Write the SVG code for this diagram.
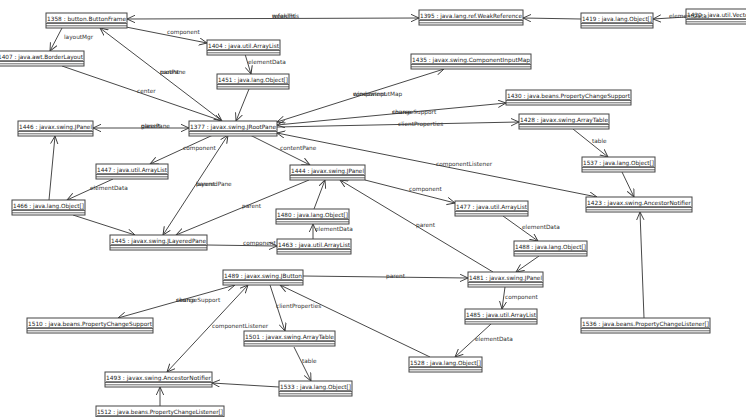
<svg xmlns="http://www.w3.org/2000/svg" width="746" height="417" viewBox="0 0 746 417">
<style>
.box{fill:#fff;stroke:#444;stroke-width:1}
.sep{fill:none;stroke:#444;stroke-width:0.8}
.nm{font-family:"DejaVu Sans",sans-serif;font-size:5.8px;fill:#222;text-decoration:underline}
.lb{font-family:"DejaVu Sans",sans-serif;font-size:5.8px;fill:#333}
.e{stroke:#333;stroke-width:0.9;fill:none;marker-end:url(#ah)}
.b{marker-start:url(#ah)}
</style>
<defs>
<marker id="ah" markerUnits="userSpaceOnUse" markerWidth="10" markerHeight="9" refX="8" refY="4" orient="auto-start-reverse">
<path d="M0,0.3 L8,4 L0,7.7" fill="none" stroke="#333" stroke-width="0.9"/>
</marker>
</defs>
<rect width="746" height="417" fill="#fff"/>
<g id="connectors">
<line class="e b" x1="127" y1="19" x2="419" y2="18"/>
<line class="e" x1="581" y1="19" x2="523" y2="18"/>
<line class="e" x1="686" y1="17" x2="653" y2="19"/>
<line class="e" x1="62" y1="28" x2="50" y2="51"/>
<line class="e" x1="126" y1="27" x2="207" y2="43"/>
<line class="e" x1="245" y1="54" x2="251" y2="74"/>
<line class="e" x1="249" y1="89" x2="236" y2="121"/>
<line class="e" x1="62" y1="66" x2="222" y2="121"/>
<line class="e b" x1="100" y1="28" x2="222" y2="121"/>
<line class="e b" x1="93" y1="128" x2="189" y2="128"/>
<line class="e b" x1="277" y1="122" x2="444" y2="69"/>
<line class="e b" x1="277" y1="125" x2="506" y2="103"/>
<line class="e" x1="277" y1="127" x2="519" y2="122"/>
<line class="e" x1="573" y1="129" x2="608" y2="157"/>
<line class="e" x1="622" y1="172" x2="634" y2="197"/>
<line class="e b" x1="277" y1="133" x2="597" y2="197"/>
<line class="e" x1="250" y1="135" x2="310" y2="165"/>
<line class="e" x1="213" y1="135" x2="150" y2="164"/>
<line class="e" x1="113" y1="179" x2="67" y2="200"/>
<line class="e" x1="49" y1="200" x2="55" y2="136"/>
<line class="e" x1="73" y1="215" x2="135" y2="235"/>
<line class="e b" x1="228" y1="135" x2="163" y2="235"/>
<line class="e" x1="309" y1="180" x2="176" y2="235"/>
<line class="e" x1="207" y1="245" x2="277" y2="246"/>
<line class="e" x1="313" y1="239" x2="313" y2="224"/>
<line class="e" x1="314" y1="209" x2="325" y2="180"/>
<line class="e" x1="365" y1="180" x2="455" y2="203"/>
<line class="e" x1="503" y1="216" x2="538" y2="241"/>
<line class="e" x1="539" y1="256" x2="516" y2="272"/>
<line class="e" x1="493" y1="272" x2="340" y2="180"/>
<line class="e" x1="303" y1="276" x2="468" y2="278"/>
<line class="e" x1="505" y1="287" x2="502" y2="309"/>
<line class="e" x1="491" y1="324" x2="455" y2="357"/>
<line class="e" x1="430" y1="357" x2="280" y2="285"/>
<line class="e b" x1="235" y1="285" x2="118" y2="318"/>
<line class="e b" x1="248" y1="285" x2="167" y2="372"/>
<line class="e" x1="270" y1="285" x2="285" y2="331"/>
<line class="e" x1="294" y1="347" x2="311" y2="381"/>
<line class="e" x1="279" y1="387" x2="212" y2="383"/>
<line class="e" x1="160" y1="406" x2="160" y2="387"/>
<line class="e" x1="644" y1="318" x2="640" y2="212"/>
</g>
<g id="n1358"><rect class="box" x="46" y="13" width="81" height="15"/><path class="sep" d="M46,23.5h81M46,25.8h81"/><text class="nm" x="47" y="21" textLength="79" lengthAdjust="spacingAndGlyphs">1358 : button.ButtonFrame</text></g>
<g id="n1407"><rect class="box" x="-3" y="51" width="87" height="15"/><path class="sep" d="M-3,61.5h87M-3,63.8h87"/><text class="nm" x="-2" y="59" textLength="85" lengthAdjust="spacingAndGlyphs">1407 : java.awt.BorderLayout</text></g>
<g id="n1404"><rect class="box" x="207" y="40" width="73" height="15"/><path class="sep" d="M207,50.5h73M207,52.8h73"/><text class="nm" x="208" y="48" textLength="71" lengthAdjust="spacingAndGlyphs">1404 : java.util.ArrayList</text></g>
<g id="n1451"><rect class="box" x="217" y="74" width="72" height="15"/><path class="sep" d="M217,84.5h72M217,86.8h72"/><text class="nm" x="218" y="82" textLength="70" lengthAdjust="spacingAndGlyphs">1451 : java.lang.Object[]</text></g>
<g id="n1395"><rect class="box" x="419" y="10" width="104" height="15"/><path class="sep" d="M419,20.5h104M419,22.8h104"/><text class="nm" x="420" y="18" textLength="102" lengthAdjust="spacingAndGlyphs">1395 : java.lang.ref.WeakReference</text></g>
<g id="n1419"><rect class="box" x="581" y="13" width="72" height="15"/><path class="sep" d="M581,23.5h72M581,25.8h72"/><text class="nm" x="582" y="21" textLength="70" lengthAdjust="spacingAndGlyphs">1419 : java.lang.Object[]</text></g>
<g id="n1420"><rect class="box" x="686" y="9" width="70" height="15"/><path class="sep" d="M686,19.5h70M686,21.8h70"/><text class="nm" x="687" y="17">1420 : java.util.Vector</text></g>
<g id="n1435"><rect class="box" x="411" y="54" width="120" height="15"/><path class="sep" d="M411,64.5h120M411,66.8h120"/><text class="nm" x="412" y="62" textLength="118" lengthAdjust="spacingAndGlyphs">1435 : javax.swing.ComponentInputMap</text></g>
<g id="n1430"><rect class="box" x="506" y="90" width="125" height="15"/><path class="sep" d="M506,100.5h125M506,102.8h125"/><text class="nm" x="507" y="98" textLength="123" lengthAdjust="spacingAndGlyphs">1430 : java.beans.PropertyChangeSupport</text></g>
<g id="n1428"><rect class="box" x="519" y="114" width="90" height="15"/><path class="sep" d="M519,124.5h90M519,126.8h90"/><text class="nm" x="520" y="122" textLength="88" lengthAdjust="spacingAndGlyphs">1428 : javax.swing.ArrayTable</text></g>
<g id="n1377"><rect class="box" x="189" y="121" width="88" height="15"/><path class="sep" d="M189,131.5h88M189,133.8h88"/><text class="nm" x="190" y="129" textLength="86" lengthAdjust="spacingAndGlyphs">1377 : javax.swing.JRootPane</text></g>
<g id="n1446"><rect class="box" x="18" y="121" width="75" height="15"/><path class="sep" d="M18,131.5h75M18,133.8h75"/><text class="nm" x="19" y="129" textLength="73" lengthAdjust="spacingAndGlyphs">1446 : javax.swing.JPanel</text></g>
<g id="n1447"><rect class="box" x="96" y="164" width="72" height="15"/><path class="sep" d="M96,174.5h72M96,176.8h72"/><text class="nm" x="97" y="172" textLength="70" lengthAdjust="spacingAndGlyphs">1447 : java.util.ArrayList</text></g>
<g id="n1466"><rect class="box" x="12" y="200" width="73" height="15"/><path class="sep" d="M12,210.5h73M12,212.8h73"/><text class="nm" x="13" y="208" textLength="71" lengthAdjust="spacingAndGlyphs">1466 : java.lang.Object[]</text></g>
<g id="n1445"><rect class="box" x="110" y="235" width="97" height="15"/><path class="sep" d="M110,245.5h97M110,247.8h97"/><text class="nm" x="111" y="243" textLength="95" lengthAdjust="spacingAndGlyphs">1445 : javax.swing.JLayeredPane</text></g>
<g id="n1444"><rect class="box" x="290" y="165" width="75" height="15"/><path class="sep" d="M290,175.5h75M290,177.8h75"/><text class="nm" x="291" y="173" textLength="73" lengthAdjust="spacingAndGlyphs">1444 : javax.swing.JPanel</text></g>
<g id="n1480"><rect class="box" x="276" y="209" width="73" height="15"/><path class="sep" d="M276,219.5h73M276,221.8h73"/><text class="nm" x="277" y="217" textLength="71" lengthAdjust="spacingAndGlyphs">1480 : java.lang.Object[]</text></g>
<g id="n1463"><rect class="box" x="277" y="239" width="74" height="15"/><path class="sep" d="M277,249.5h74M277,251.8h74"/><text class="nm" x="278" y="247" textLength="72" lengthAdjust="spacingAndGlyphs">1463 : java.util.ArrayList</text></g>
<g id="n1477"><rect class="box" x="455" y="201" width="73" height="15"/><path class="sep" d="M455,211.5h73M455,213.8h73"/><text class="nm" x="456" y="209" textLength="71" lengthAdjust="spacingAndGlyphs">1477 : java.util.ArrayList</text></g>
<g id="n1537"><rect class="box" x="582" y="157" width="73" height="15"/><path class="sep" d="M582,167.5h73M582,169.8h73"/><text class="nm" x="583" y="165" textLength="71" lengthAdjust="spacingAndGlyphs">1537 : java.lang.Object[]</text></g>
<g id="n1423"><rect class="box" x="586" y="197" width="106" height="15"/><path class="sep" d="M586,207.5h106M586,209.8h106"/><text class="nm" x="587" y="205" textLength="104" lengthAdjust="spacingAndGlyphs">1423 : javax.swing.AncestorNotifier</text></g>
<g id="n1488"><rect class="box" x="514" y="241" width="73" height="15"/><path class="sep" d="M514,251.5h73M514,253.8h73"/><text class="nm" x="515" y="249" textLength="71" lengthAdjust="spacingAndGlyphs">1488 : java.lang.Object[]</text></g>
<g id="n1481"><rect class="box" x="468" y="272" width="75" height="15"/><path class="sep" d="M468,282.5h75M468,284.8h75"/><text class="nm" x="469" y="280" textLength="73" lengthAdjust="spacingAndGlyphs">1481 : javax.swing.JPanel</text></g>
<g id="n1485"><rect class="box" x="465" y="309" width="72" height="15"/><path class="sep" d="M465,319.5h72M465,321.8h72"/><text class="nm" x="466" y="317" textLength="70" lengthAdjust="spacingAndGlyphs">1485 : java.util.ArrayList</text></g>
<g id="n1536"><rect class="box" x="581" y="318" width="129" height="15"/><path class="sep" d="M581,328.5h129M581,330.8h129"/><text class="nm" x="582" y="326" textLength="127" lengthAdjust="spacingAndGlyphs">1536 : java.beans.PropertyChangeListener[]</text></g>
<g id="n1489"><rect class="box" x="223" y="270" width="80" height="15"/><path class="sep" d="M223,280.5h80M223,282.8h80"/><text class="nm" x="224" y="278" textLength="78" lengthAdjust="spacingAndGlyphs">1489 : javax.swing.JButton</text></g>
<g id="n1510"><rect class="box" x="27" y="318" width="126" height="15"/><path class="sep" d="M27,328.5h126M27,330.8h126"/><text class="nm" x="28" y="326" textLength="124" lengthAdjust="spacingAndGlyphs">1510 : java.beans.PropertyChangeSupport</text></g>
<g id="n1501"><rect class="box" x="244" y="331" width="91" height="15"/><path class="sep" d="M244,341.5h91M244,343.8h91"/><text class="nm" x="245" y="339" textLength="89" lengthAdjust="spacingAndGlyphs">1501 : javax.swing.ArrayTable</text></g>
<g id="n1528"><rect class="box" x="409" y="357" width="73" height="15"/><path class="sep" d="M409,367.5h73M409,369.8h73"/><text class="nm" x="410" y="365" textLength="71" lengthAdjust="spacingAndGlyphs">1528 : java.lang.Object[]</text></g>
<g id="n1493"><rect class="box" x="105" y="372" width="107" height="15"/><path class="sep" d="M105,382.5h107M105,384.8h107"/><text class="nm" x="106" y="380" textLength="105" lengthAdjust="spacingAndGlyphs">1493 : javax.swing.AncestorNotifier</text></g>
<g id="n1533"><rect class="box" x="279" y="381" width="73" height="15"/><path class="sep" d="M279,391.5h73M279,393.8h73"/><text class="nm" x="280" y="389" textLength="71" lengthAdjust="spacingAndGlyphs">1533 : java.lang.Object[]</text></g>
<g id="n1512"><rect class="box" x="96" y="406" width="128" height="15"/><path class="sep" d="M96,416.5h128M96,418.8h128"/><text class="nm" x="97" y="414" textLength="126" lengthAdjust="spacingAndGlyphs">1512 : java.beans.PropertyChangeListener[]</text></g>
<g id="labels">
<text class="lb" x="272" y="18">weakThis</text>
<text class="lb" x="272" y="18">referent</text>
<text class="lb" x="669" y="18">elementData</text>
<text class="lb" x="64" y="39">layoutMgr</text>
<text class="lb" x="167" y="34">component</text>
<text class="lb" x="248" y="64">elementData</text>
<text class="lb" x="137" y="93">center</text>
<text class="lb" x="160" y="74">rootPane</text>
<text class="lb" x="160" y="74">parent</text>
<text class="lb" x="141" y="128">glassPane</text>
<text class="lb" x="141" y="128">parent</text>
<text class="lb" x="353" y="96">windowInputMap</text>
<text class="lb" x="353" y="96">component</text>
<text class="lb" x="392" y="114">changeSupport</text>
<text class="lb" x="392" y="114">source</text>
<text class="lb" x="398" y="126">clientProperties</text>
<text class="lb" x="592" y="143">table</text>
<text class="lb" x="436" y="166">componentListener</text>
<text class="lb" x="280" y="150">contentPane</text>
<text class="lb" x="183" y="150">component</text>
<text class="lb" x="90" y="190">elementData</text>
<text class="lb" x="196" y="186">layeredPane</text>
<text class="lb" x="196" y="186">parent</text>
<text class="lb" x="242" y="208">parent</text>
<text class="lb" x="243" y="245">component</text>
<text class="lb" x="315" y="231">elementData</text>
<text class="lb" x="409" y="191">component</text>
<text class="lb" x="522" y="229">elementData</text>
<text class="lb" x="416" y="227">parent</text>
<text class="lb" x="386" y="278">parent</text>
<text class="lb" x="505" y="299">component</text>
<text class="lb" x="475" y="341">elementData</text>
<text class="lb" x="176" y="302">changeSupport</text>
<text class="lb" x="176" y="302">source</text>
<text class="lb" x="212" y="328">componentListener</text>
<text class="lb" x="276" y="308">clientProperties</text>
<text class="lb" x="302" y="363">table</text>
</g>
</svg>
